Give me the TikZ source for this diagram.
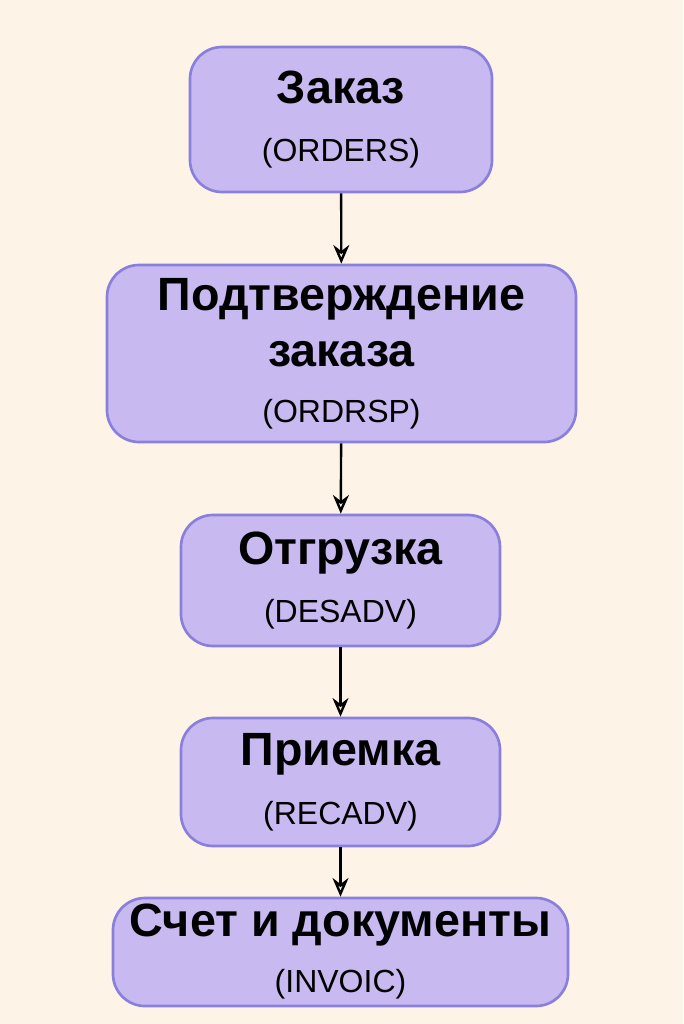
\documentclass[tikz,border=0pt]{standalone}
\usepackage{fontspec}
\setmainfont{Liberation Sans}
\usetikzlibrary{arrows.meta}
\definecolor{bgcol}{HTML}{FDF3E7}
\definecolor{boxfill}{HTML}{C8BAF0}
\definecolor{boxline}{HTML}{8B7FDD}
\newcommand{\ttl}[1]{{\fontsize{35}{42}\selectfont\bfseries #1}}
\newcommand{\cde}[1]{{\fontsize{24}{30}\selectfont #1}}
\begin{document}
\begin{tikzpicture}[x=0.75pt,y=-0.75pt,
  stage/.style={draw=boxline, fill=boxfill, line width=2pt, rounded corners=24pt, align=center, inner sep=0pt,
    font=\fontsize{24}{42}\selectfont},
  link/.style={-{Stealth[length=14pt,width=12pt,open]}, line width=1.8pt}]
  \fill[bgcol] (0,0) rectangle (683,1024);
  \node[stage, minimum width=226.5pt, minimum height=108.75pt] (order) at (341,119.5)
    {\ttl{Заказ}\\[2pt]\cde{(ORDERS)}};
  \node[stage, minimum width=351.75pt, minimum height=132.75pt] (ordrsp) at (341.5,353.5)
    {\ttl{Подтверждение}\\\ttl{заказа}\\\cde{(ORDRSP)}};
  \node[stage, minimum width=239.25pt, minimum height=98.25pt] (desadv) at (340.5,580.5)
    {\ttl{Отгрузка}\\[2pt]\cde{(DESADV)}};
  \node[stage, minimum width=239.25pt, minimum height=96pt] (recadv) at (340.5,782)
    {\ttl{Приемка}\\[2pt]\cde{(RECADV)}};
  \node[stage, minimum width=341.25pt, minimum height=81pt] (invoic) at (340.5,952)
    {\ttl{Счет и документы}\\\cde{(INVOIC)}};
  \draw[link] (order) -- (ordrsp);
  \draw[link] (ordrsp) -- (desadv);
  \draw[link] (desadv) -- (recadv);
  \draw[link] (recadv) -- (invoic);
\end{tikzpicture}
\end{document}
